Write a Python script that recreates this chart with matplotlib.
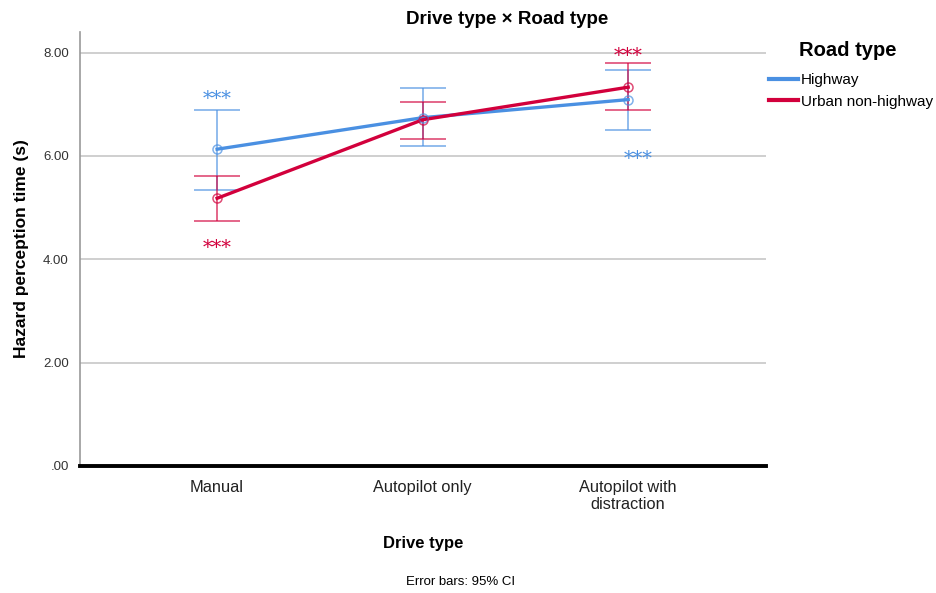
import numpy as np
import matplotlib.pyplot as plt

plt.rcParams['font.family'] = ['Liberation Sans', 'DejaVu Sans']

drive_types = ['Manual', 'Autopilot only', 'Autopilot with\ndistraction']
road_types = ['Highway', 'Urban non-highway']

# means and 95% CI
highway_mean = [6.13, 6.74, 7.09]
highway_low = [5.35, 6.20, 6.50]
highway_high = [6.88, 7.31, 7.67]

urban_mean = [5.18, 6.70, 7.33]
urban_low = [4.74, 6.32, 6.89]
urban_high = [5.61, 7.05, 7.79]

colors = ['#4A90E2', '#D2003C']

fig = plt.figure(figsize=(9.37, 5.93), dpi=100)
ax = fig.add_axes([0.0854, 0.2142, 0.732, 0.732])

x = np.arange(len(drive_types))
series = [(highway_mean, highway_low, highway_high),
          (urban_mean, urban_low, urban_high)]

handles = []
for (m, lo, hi), c, lab in zip(series, colors, road_types):
    m = np.array(m); lo = np.array(lo); hi = np.array(hi)
    ax.errorbar(x, m, yerr=[m - lo, hi - m], fmt='none', ecolor=c,
                elinewidth=1.3, capsize=16.5, capthick=1.3, alpha=0.65, zorder=3)
    h, = ax.plot(x, m, color=c, lw=2.4, label=lab, zorder=4)
    handles.append(h)
    ax.plot(x, m, 'o', mfc='none', mec=c, ms=6.5, mew=1.1, alpha=0.7, zorder=5)

# significance markers
star_kw = dict(ha='center', va='center', fontsize=14, family='DejaVu Serif')
ax.text(x[0], highway_high[0] + 0.22, '***', color=colors[0], **star_kw)
ax.text(x[0], urban_low[0] - 0.53, '***', color=colors[1], **star_kw)
ax.text(x[2], urban_high[2] + 0.14, '***', color=colors[1], **star_kw)
ax.text(x[2] + 0.05, highway_low[2] - 0.56, '***', color=colors[0], **star_kw)

ax.set_xlim(-0.667, 2.67)
ax.set_ylim(0, 8.4)
ax.set_yticks([0, 2, 4, 6, 8])
ax.set_yticklabels(['.00', '2.00', '4.00', '6.00', '8.00'], fontsize=9.5, color='#333333')
ax.set_xticks(x)
ax.set_xticklabels(drive_types, fontsize=11.8, color='#222222', linespacing=1.2)
ax.tick_params(axis='y', length=0, pad=8)
ax.tick_params(axis='x', length=0, pad=10)
ax.grid(axis='y', color='#CCCCCC', lw=1.3)
ax.set_axisbelow(True)

for s in ['top', 'right']:
    ax.spines[s].set_visible(False)
ax.spines['left'].set_color('#999999')
ax.spines['left'].set_linewidth(1.2)
ax.spines['bottom'].set_color('black')
ax.spines['bottom'].set_linewidth(2.8)

ax.set_ylabel('Hazard perception time (s)', fontsize=12.5, fontweight='bold', labelpad=10)
ax.set_xlabel('Drive type', fontsize=12, fontweight='bold', labelpad=17)

fig.text(0.541, 1 - 20 / 593, 'Drive type \u00d7 Road type', fontsize=13.5,
         fontweight='bold', ha='center', va='center')

fig.text(0.853, 1 - 50 / 593, 'Road type', fontsize=14.5, fontweight='bold',
         ha='left', va='center')
leg = fig.legend(handles=handles, labels=road_types, loc='upper left',
                 bbox_to_anchor=(0.821, 1 - 73 / 593), frameon=False,
                 fontsize=11, handlelength=1.85, handletextpad=0.2,
                 borderaxespad=0, borderpad=0, labelspacing=0.5)
for line in leg.get_lines():
    line.set_linewidth(3)

fig.text(0.492, 1 - 582 / 593, 'Error bars: 95% CI', fontsize=9.5,
         ha='center', va='center')

fig.savefig('out.png', dpi=100)
